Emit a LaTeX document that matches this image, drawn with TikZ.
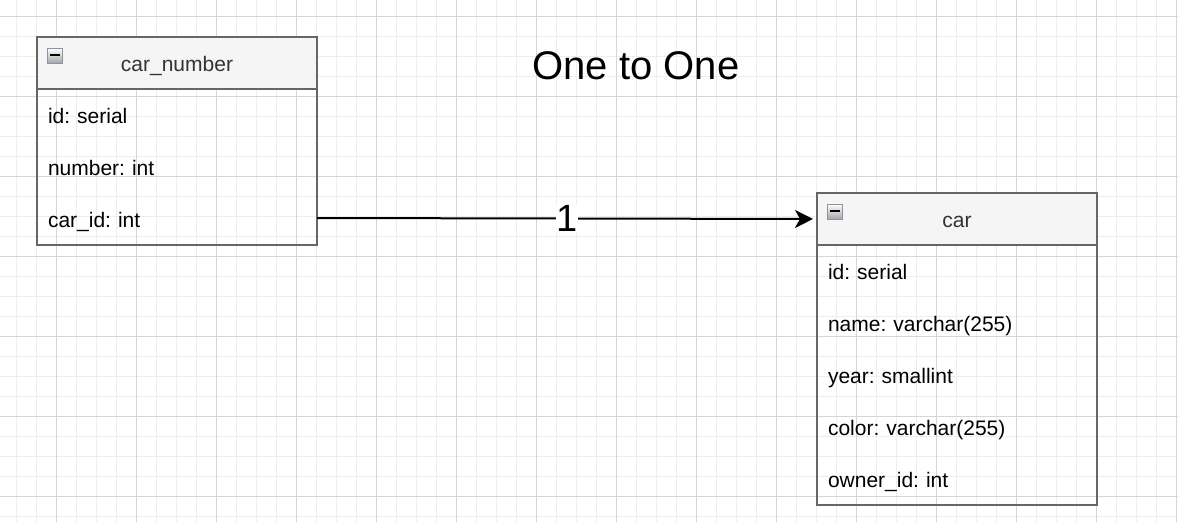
\documentclass[tikz,border=0pt]{standalone}
\usepackage{fontspec}
\setmainfont{Liberation Sans}
\usetikzlibrary{arrows.meta}
\frenchspacing
\definecolor{gridminor}{HTML}{EEEEEE}
\definecolor{gridmajor}{HTML}{D6D6D6}
\definecolor{boxline}{HTML}{666666}
\definecolor{headfill}{HTML}{F5F5F5}
\definecolor{headtext}{HTML}{333333}
\definecolor{iconline}{HTML}{8A94A8}
\tikzset{
  header/.style={draw=boxline, line width=2pt, fill=headfill, minimum width=280pt,
    minimum height=52pt, inner sep=0pt, outer sep=0pt, anchor=north west,
    text height=17.5pt, text depth=0pt,
    text=headtext, font=\fontsize{21}{25}\selectfont\frenchspacing},
  row/.style={minimum height=52pt, text width=258pt, inner xsep=11pt, inner ysep=0pt,
    text height=16pt, text depth=0pt,
    outer sep=0pt, align=left, anchor=north west, font=\fontsize{21}{25}\selectfont\frenchspacing},
  outline/.style={draw=boxline, line width=2pt},
  icon/.style={draw=iconline, line width=1pt, minimum size=15pt, inner sep=0pt,
    top color=white, bottom color=black!35},
  minus/.style={line width=1.6pt, black},
  relation/.style={line width=2pt, -{Stealth[length=18pt,width=18pt,inset=5pt]}, shorten >=4pt},
  cardinality/.style={fill=white, inner sep=0pt, font=\fontsize{38}{40}\selectfont},
  gridmin/.style={gridminor, line width=1pt},
  gridmaj/.style={gridmajor, line width=1pt}
}
\begin{document}
\begin{tikzpicture}[x=1pt,y=-1pt]
\useasboundingbox (0,0) rectangle (1178,522);
\fill[white] (0,0) rectangle (1178,522);
\foreach \x in {16,36,...,1176} \draw[gridmin] (\x,0) -- (\x,522);
\foreach \y in {16,36,...,516} \draw[gridmin] (0,\y) -- (1178,\y);
\foreach \x in {56,136,...,1176} \draw[gridmaj] (\x,0) -- (\x,522);
\foreach \y in {16,96,...,516} \draw[gridmaj] (0,\y) -- (1178,\y);

% title
\node[font=\fontsize{40}{44}\selectfont] (title) at (636,66) {One to One};

% car_number table
\node[header] (cnhead) at (37,37) {car\_number};
\node[row] (cnr1) at (cnhead.south west) {id: serial};
\node[row] (cnr2) at (cnr1.south west) {number: int};
\node[row] (cnr3) at (cnr2.south west) {car\_id: int};
\draw[outline] (cnhead.north west) rectangle (cnr3.south east);
\node[icon] (cnicon) at (55,55.5) {};
\draw[minus] ([xshift=-5pt,yshift=0.8pt]cnicon.center) -- ([xshift=5pt,yshift=0.8pt]cnicon.center);

% car table
\node[header] (carhead) at (817,193) {car};
\node[row] (carr1) at (carhead.south west) {id: serial};
\node[row] (carr2) at (carr1.south west) {name: varchar(255)};
\node[row] (carr3) at (carr2.south west) {year: smallint};
\node[row] (carr4) at (carr3.south west) {color: varchar(255)};
\node[row] (carr5) at (carr4.south west) {owner\_id: int};
\draw[outline] (carhead.north west) rectangle (carr5.south east);
\node[icon] (caricon) at (835,211.5) {};
\draw[minus] ([xshift=-5pt,yshift=0.8pt]caricon.center) -- ([xshift=5pt,yshift=0.8pt]caricon.center);

% relation
\draw[relation] ([yshift=1pt]cnr3.east) -- node[cardinality] (one) {1} (carhead.west);
\end{tikzpicture}
\end{document}
